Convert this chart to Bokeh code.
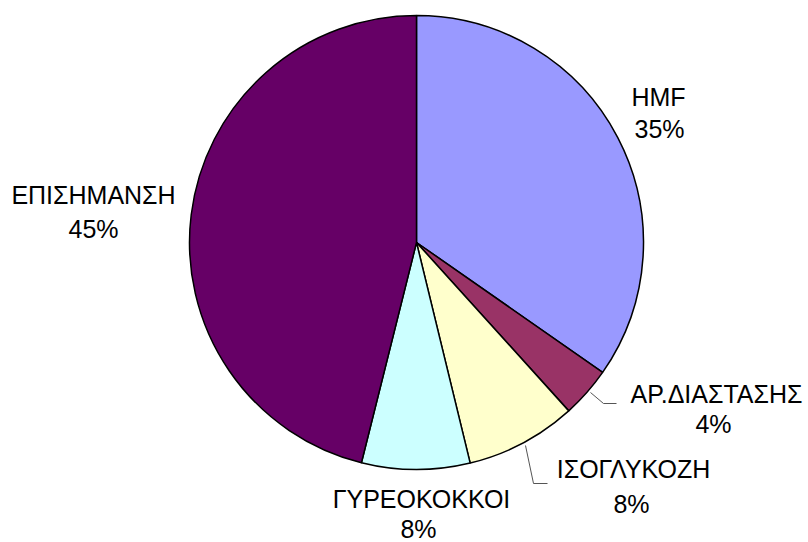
import math
from bokeh.plotting import figure
from bokeh.models import Range1d, ColumnDataSource
from bokeh.core.properties import value
from bokeh.embed import file_html
from bokeh.resources import INLINE

# ---- data ----
categories = ["HMF", "ΑΡ.ΔΙΑΣΤΑΣΗΣ", "ΙΣΟΓΛΥΚΟΖΗ", "ΓΥΡΕΟΚΟΚΚΟΙ", "ΕΠΙΣΗΜΑΝΣΗ"]
shares = [34.7, 3.6, 7.9, 7.7, 46.1]
pct_labels = ["35%", "4%", "8%", "8%", "45%"]

# ---- styling / layout ----
colors = ["#9999FF", "#993366", "#FFFFCC", "#CCFFFF", "#660066"]
W, H = 808, 542
cx, cy, r = 416, H - 242, 227
# label anchors (screen px): (center x, y of name, y of pct, pct center x)
label_pos = [
    (658, 96, 128, 659),
    (716, 393, 423, 713),
    (633, 468, 503, 631),
    (421, 498, 528, 418),
    (93, 194, 228, 93),
]
FONT = value("Liberation Sans")

p = figure(width=W, height=H, output_backend="svg", toolbar_location=None,
           x_range=Range1d(0, W), y_range=Range1d(0, H), min_border=0)
p.axis.visible = False
p.grid.visible = False
p.outline_line_color = None

total = sum(shares)
starts, ends = [], []
cum = 0.0
for s in shares:
    starts.append(math.pi / 2 - 2 * math.pi * cum / total)
    cum += s
    ends.append(math.pi / 2 - 2 * math.pi * cum / total)

src = ColumnDataSource(dict(start=starts, end=ends, color=colors, cat=categories))
p.wedge(x=cx, y=cy, radius=r, start_angle="start", end_angle="end",
        direction="clock", fill_color="color", line_color="black", line_width=1.5,
        source=src)

# leader lines (screen coords)
leaders = [
    [(590, 392), (603, 403), (616, 403)],
    [(525, 445), (533, 483), (547, 483)],
]
for pts in leaders:
    p.line([a for a, b in pts], [H - b for a, b in pts], line_color="#555555", line_width=1)

for cat, pct, (x, yn, yp, xp) in zip(categories, pct_labels, label_pos):
    p.text(x=[x], y=[H - yn], text=[cat], text_font=FONT, text_font_size="25px",
           text_align="center", text_baseline="alphabetic", text_color="black")
    p.text(x=[xp], y=[H - yp], text=[pct], text_font=FONT, text_font_size="25px",
           text_align="center", text_baseline="alphabetic", text_color="black")

open("out.html", "w").write(file_html(p, INLINE))
